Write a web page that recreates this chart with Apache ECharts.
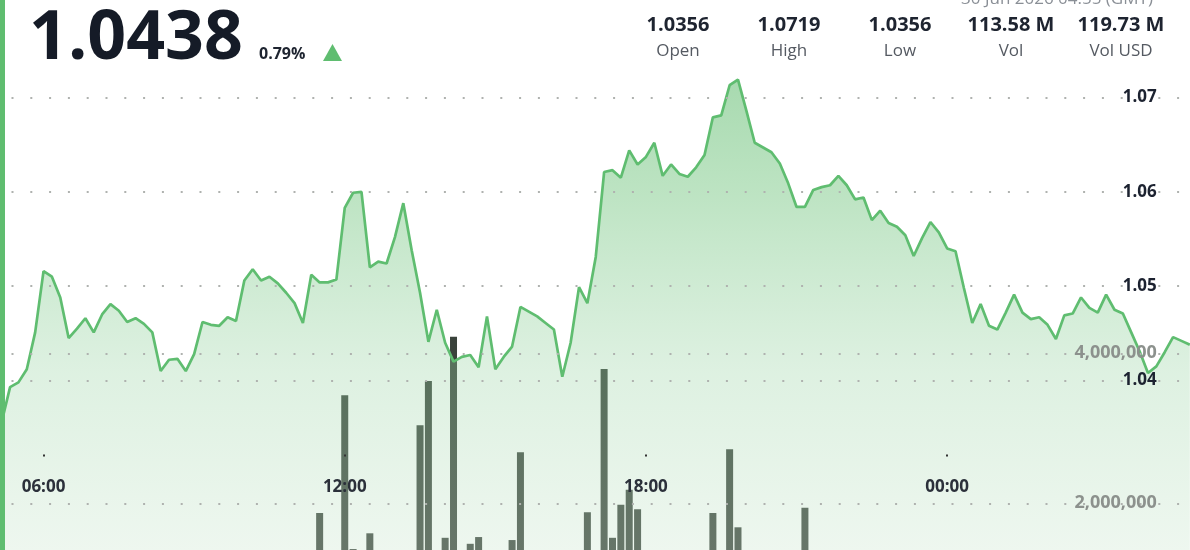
<!DOCTYPE html>
<html><head><meta charset="utf-8">
<script src="https://cdn.jsdelivr.net/npm/echarts@6/dist/echarts.min.js"></script>
<style>html,body{margin:0;padding:0;overflow:hidden;background:#fff;width:1190px;height:550px}
#chart{width:1190px;height:700px}</style></head><body><div id="chart"></div>
<script>
// 10-minute time categories from 05:10 to 04:50 (next day)
const timeCategories = [];
for (let i = 0; i < 143; i++) {
  const m = (5 * 60 + 10 + i * 10) % 1440;
  timeCategories.push(String(Math.floor(m / 60)).padStart(2, '0') + ':' + String(m % 60).padStart(2, '0'));
}
const xTickLabels = ['06:00', '12:00', '18:00', '00:00'];

const priceValues = [
  1.0356, 1.0393, 1.0398, 1.0412, 1.0451,
  1.0516, 1.0510, 1.0488, 1.0445, 1.0455, 1.0466, 1.0451, 1.0470, 1.0481, 1.0474,
  1.0462, 1.0466, 1.0460, 1.0451, 1.0410, 1.0422, 1.0423, 1.0410, 1.0428, 1.0462,
  1.0459, 1.0458, 1.0467, 1.0463, 1.0506, 1.0518, 1.0506, 1.0510, 1.0503, 1.0493,
  1.0482, 1.0461, 1.0512, 1.0504, 1.0504, 1.0507, 1.0583, 1.0599, 1.0600, 1.0520,
  1.0526, 1.0524, 1.0552, 1.0588, 1.0538, 1.0493, 1.0441, 1.0475, 1.0440, 1.0420,
  1.0425, 1.0427, 1.0414, 1.0468, 1.0412, 1.0425, 1.0436, 1.0478, 1.0473, 1.0468,
  1.0461, 1.0454, 1.0404, 1.0440, 1.0499, 1.0482, 1.0531, 1.0621, 1.0623, 1.0615,
  1.0644, 1.0629, 1.0637, 1.0652, 1.0617, 1.0629, 1.0619, 1.0616, 1.0626, 1.0639,
  1.0679, 1.0681, 1.0713, 1.0719, 1.0686, 1.0652, 1.0647, 1.0642, 1.0630, 1.0609,
  1.0584, 1.0584, 1.0602, 1.0605, 1.0607, 1.0617, 1.0607, 1.0592, 1.0594, 1.0570,
  1.0580, 1.0567, 1.0563, 1.0554, 1.0532, 1.0551, 1.0568, 1.0557, 1.0540, 1.0537,
  1.0498, 1.0461, 1.0481, 1.0458, 1.0454, 1.0472, 1.0491, 1.0472, 1.0465, 1.0467,
  1.0459, 1.0444, 1.0469, 1.0471, 1.0488, 1.0477, 1.0472, 1.0491, 1.0475, 1.0471,
  1.0451, 1.0431, 1.0408, 1.0415, 1.0430, 1.0446, 1.0442, 1.0438
];

const volumeTimes = ['11:30', '12:00', '12:10', '12:30', '13:30', '13:40', '14:00', '14:10', '14:30', '14:40',
  '15:20', '15:30', '16:50', '17:10', '17:20', '17:30', '17:40', '17:50', '19:20', '19:40', '19:50', '21:10'];
const volumeValues = [1870000, 3440000, 1390000, 1600000, 3040000, 3630000, 1540000, 4220000, 1460000, 1550000,
  1510000, 2680000, 1880000, 3790000, 1540000, 1980000, 2180000, 1920000, 1870000, 2720000, 1680000, 1940000];

const statValues = ['1.0356', '1.0719', '1.0356', '113.58 M', '119.73 M'];
const statLabels = ['Open', 'High', 'Low', 'Vol', 'Vol USD'];
const lastPrice = '1.0438';
const changePct = '0.79%';
const stampText = '30 Jun 2026 04:55 (GMT)';

const FONT = '"Open Sans", "Noto Sans", sans-serif';
const GREEN = '#5fbd70';
const dotLine = { type: [2, 16.8], dashOffset: 9, color: '#afb2af', width: 2 };
const showTick = (idx, val) => xTickLabels.indexOf(val) >= 0;

const statX = [678, 789, 900, 1011, 1121];
const graphics = [
  { type: 'rect', shape: { x: 0, y: 0, width: 5, height: 700 }, style: { fill: GREEN }, z: 100 },
  { type: 'text', x: 29, y: 40, z: 100, style: { text: lastPrice, font: 'bold 68px ' + FONT, fill: '#151b27', align: 'left', verticalAlign: 'middle' } },
  { type: 'text', x: 259, y: 54, z: 100, style: { text: changePct, font: 'bold 16px ' + FONT, fill: '#1e2430', align: 'left', verticalAlign: 'middle' } },
  { type: 'polygon', z: 100, shape: { points: [[323, 61], [342, 61], [332.5, 44]] }, style: { fill: GREEN } },
  { type: 'text', x: 1057, y: -1, z: 100, style: { text: stampText, font: '17px ' + FONT, fill: '#8a8f96', align: 'center', verticalAlign: 'middle' } }
];
statValues.forEach((v, i) => {
  graphics.push({ type: 'text', x: statX[i], y: 25, z: 100, style: { text: v, font: 'bold 20px ' + FONT, fill: '#1e2430', align: 'center', verticalAlign: 'middle' } });
  graphics.push({ type: 'text', x: statX[i], y: 51, z: 100, style: { text: statLabels[i], font: '17px ' + FONT, fill: '#555a62', align: 'center', verticalAlign: 'middle' } });
});

const chart = echarts.init(document.getElementById('chart'), null, { renderer: 'canvas' });
chart.setOption({
  animation: false,
  backgroundColor: '#ffffff',
  graphic: graphics,
  grid: [
    { left: 1.7, right: 0.2, top: 97.5, height: 283 },
    { left: 1.7, right: 0.2, top: 353.3, height: 300 }
  ],
  xAxis: [
    {
      type: 'category', gridIndex: 0, data: timeCategories, boundaryGap: false, offset: 74, z: 10,
      axisLine: { show: false },
      axisTick: { show: true, length: 2, interval: showTick, lineStyle: { color: '#333', width: 2 } },
      axisLabel: { interval: showTick, color: '#2b303a', fontWeight: 'bold', fontSize: 17, fontFamily: FONT, margin: 24 },
      splitLine: { show: false }
    },
    {
      type: 'category', gridIndex: 1, data: timeCategories, boundaryGap: false, show: false
    }
  ],
  yAxis: [
    {
      type: 'value', gridIndex: 0, min: 1.04, max: 1.07, interval: 0.01, position: 'right', z: 10,
      axisLine: { show: false }, axisTick: { show: false },
      axisLabel: { inside: true, margin: 33, formatter: v => v.toFixed(2), color: '#1c2230', fontWeight: 'bold', fontSize: 17, fontFamily: FONT },
      splitLine: { show: true, lineStyle: dotLine }
    },
    {
      type: 'value', gridIndex: 1, min: 0, max: 4000000, interval: 2000000, position: 'right', z: 10,
      axisLine: { show: false }, axisTick: { show: false },
      axisLabel: { inside: true, margin: 33, formatter: v => v.toLocaleString('en-US'), color: '#8c918d', fontWeight: 'bold', fontSize: 18, fontFamily: FONT },
      splitLine: { show: true, lineStyle: dotLine }
    }
  ],
  series: [
    {
      type: 'bar', xAxisIndex: 1, yAxisIndex: 1, z: 2, clip: false, barWidth: 7,
      data: volumeTimes.map((t, i) => [t, volumeValues[i]]),
      itemStyle: { color: '#3a423b' }
    },
    {
      type: 'line', xAxisIndex: 0, yAxisIndex: 0, z: 3, clip: false, showSymbol: false, data: priceValues,
      lineStyle: { color: GREEN, width: 2.7 },
      areaStyle: {
        origin: 1.0,
        color: new echarts.graphic.LinearGradient(0, 0, 0, 1, [
          { offset: 0, color: 'rgba(88,184,103,0.75)' },
          { offset: 0.17, color: 'rgba(103,192,116,0.62)' },
          { offset: 0.43, color: 'rgba(151,211,162,0.46)' },
          { offset: 0.69, color: 'rgba(200,229,204,0.45)' },
          { offset: 1, color: 'rgba(215,235,218,0.45)' }
        ])
      }
    }
  ]
});
</script></body></html>
